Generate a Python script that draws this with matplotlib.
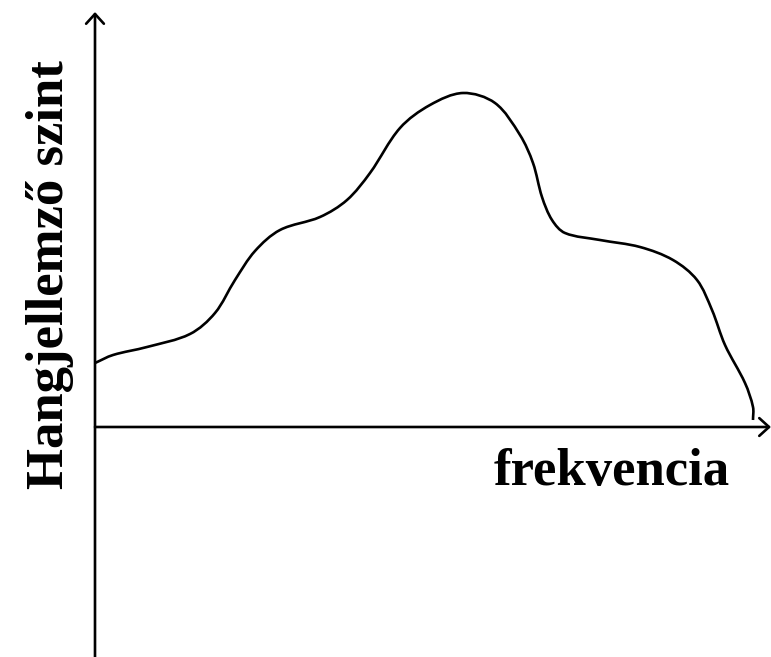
import numpy as np
import matplotlib.pyplot as plt
from matplotlib.path import Path
from matplotlib.patches import PathPatch

# spektrum gorbe pontjai (x: frekvencia, y: szint), origo a tengelyek metszespontja
freq = [0, 18, 52, 95, 120, 140, 160, 185, 225, 252, 275, 305, 335, 368, 400,
        425, 438, 447, 457, 470, 505, 545, 578, 602, 617, 630, 650, 658, 658]
level = [64, 72, 80, 93, 114, 147, 176, 197, 210, 227, 254, 299, 322, 334, 324,
         292, 264, 230, 207, 194, 187, 180, 167, 147, 117, 82, 44, 20, 7]

x_label = "frekvencia"
y_label = "Hangjellemző szint"

fig = plt.figure(figsize=(7.71, 6.57), dpi=100)
ax = fig.add_axes([0, 0, 1, 1])
ax.set_xlim(-95, 676)
ax.set_ylim(-230, 427)
ax.axis('off')

# sima gorbe Bezier-szakaszokkal (hurhossz szerint skalazott erintok)
p = np.column_stack([freq, level]).astype(float)
n = len(p)
d = np.linalg.norm(np.diff(p, axis=0), axis=1)
tang = np.zeros_like(p)
for i in range(n):
    if i == 0:
        tang[i] = (p[1] - p[0]) / d[0]
    elif i == n - 1:
        tang[i] = (p[-1] - p[-2]) / d[-1]
    else:
        tang[i] = (p[i + 1] - p[i - 1]) / (d[i - 1] + d[i])
verts = [p[0]]
codes = [Path.MOVETO]
for i in range(n - 1):
    verts += [p[i] + tang[i] * d[i] / 3, p[i + 1] - tang[i + 1] * d[i] / 3, p[i + 1]]
    codes += [Path.CURVE4] * 3
ax.add_patch(PathPatch(Path(verts, codes), fill=False, lw=1.9, color='black',
                       joinstyle='round', capstyle='butt'))

# tengelyek nyillal
arrow = dict(arrowstyle='->, head_length=0.22, head_width=0.2', lw=1.9, color='black',
             mutation_scale=32, shrinkA=0, shrinkB=0)
ax.annotate('', xy=(0, 415), xytext=(0, -232), arrowprops=arrow)
ax.annotate('', xy=(676, 0), xytext=(0, 0), arrowprops=arrow)

font = dict(family='Liberation Serif', weight='bold', size=38, color='black')
ax.text(517, -45, x_label, ha='center', va='center', **font)
ax.text(-45, 152, y_label, ha='center', va='center', rotation=90, **font)

fig.savefig('out.png', dpi=100)
